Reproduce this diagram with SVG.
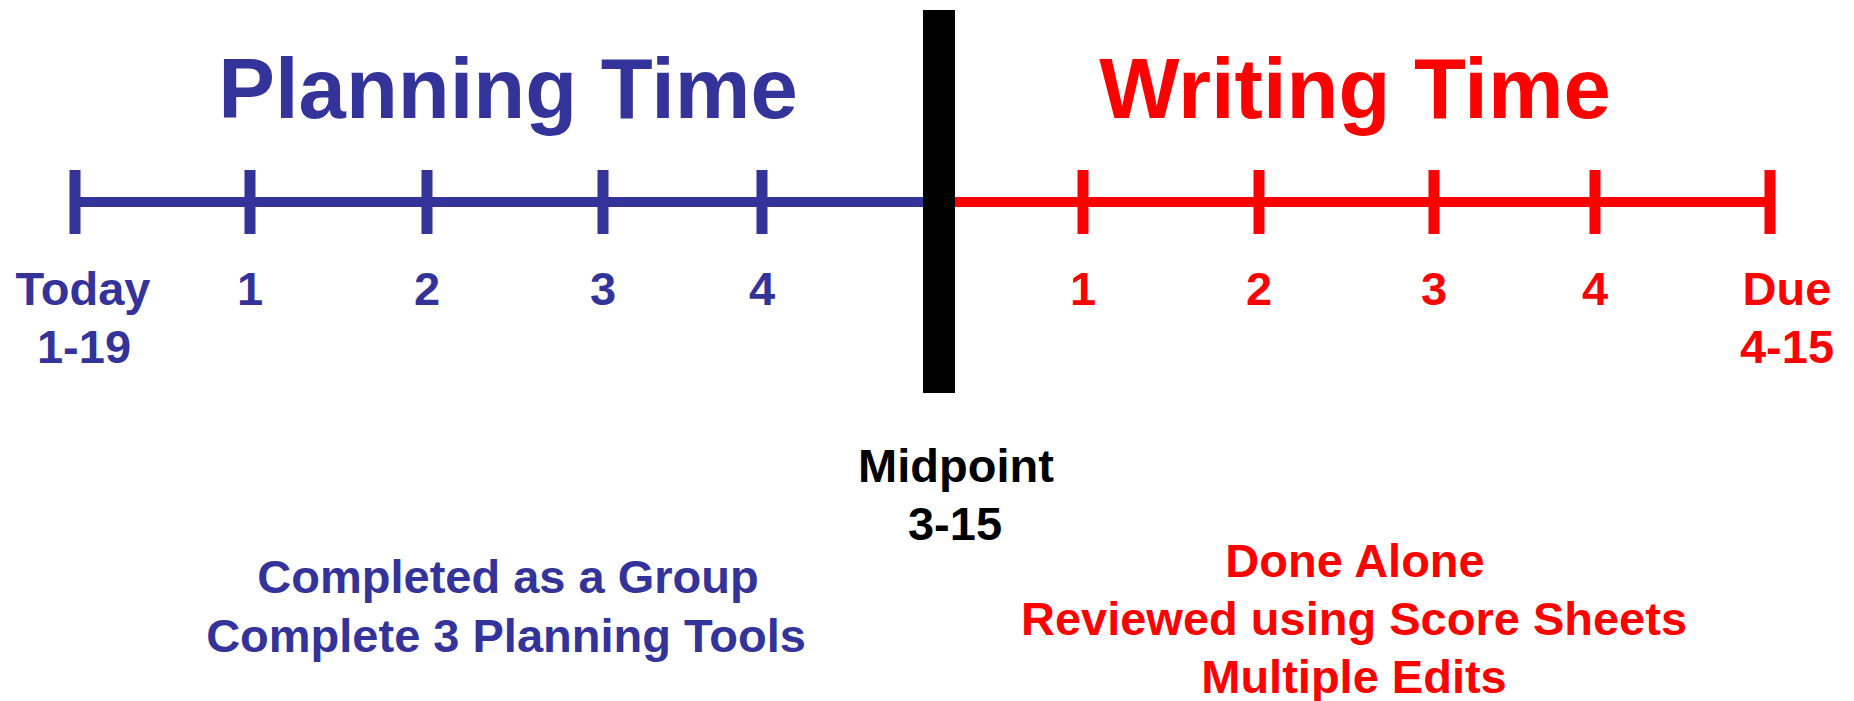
<svg xmlns="http://www.w3.org/2000/svg" width="1854" height="701" viewBox="0 0 1854 701">
<style>
text{font-family:"Liberation Sans",Arial,sans-serif;font-weight:bold;text-anchor:middle}
.b{fill:#333399}.r{fill:#FF0000}.k{fill:#000}
.t{font-size:85px}.s{font-size:47px}
.lb{stroke:#333399;stroke-width:10}.lr{stroke:#FF0000;stroke-width:10}
.tb{stroke:#333399;stroke-width:11}.tr{stroke:#FF0000;stroke-width:11}
</style>
<rect width="1854" height="701" fill="#fff"/>
<g id="connectors">
<line class="lb" x1="75" y1="202" x2="925" y2="202"/>
<line class="lr" x1="953" y1="202" x2="1770" y2="202"/>
</g>
<g id="planning-title"><text class="t b" x="508" y="118">Planning Time</text></g>
<g id="writing-title"><text class="t r" x="1355" y="118">Writing Time</text></g>
<g id="ticks-planning">
<line class="tb" x1="75" y1="170" x2="75" y2="234"/>
<line class="tb" x1="250" y1="170" x2="250" y2="234"/>
<line class="tb" x1="427" y1="170" x2="427" y2="234"/>
<line class="tb" x1="603" y1="170" x2="603" y2="234"/>
<line class="tb" x1="762" y1="170" x2="762" y2="234"/>
</g>
<g id="ticks-writing">
<line class="tr" x1="1083" y1="170" x2="1083" y2="234"/>
<line class="tr" x1="1259" y1="170" x2="1259" y2="234"/>
<line class="tr" x1="1434" y1="170" x2="1434" y2="234"/>
<line class="tr" x1="1595" y1="170" x2="1595" y2="234"/>
<line class="tr" x1="1770" y1="170" x2="1770" y2="234"/>
</g>
<g id="midpoint-bar"><rect x="923" y="10" width="32" height="383" fill="#000"/></g>
<g id="today"><text class="s b" x="83" y="305">Today</text><text class="s b" x="84" y="363">1-19</text></g>
<g id="p1"><text class="s b" x="250" y="305">1</text></g>
<g id="p2"><text class="s b" x="427" y="305">2</text></g>
<g id="p3"><text class="s b" x="603" y="305">3</text></g>
<g id="p4"><text class="s b" x="762" y="305">4</text></g>
<g id="w1"><text class="s r" x="1083" y="305">1</text></g>
<g id="w2"><text class="s r" x="1259" y="305">2</text></g>
<g id="w3"><text class="s r" x="1434" y="305">3</text></g>
<g id="w4"><text class="s r" x="1595" y="305">4</text></g>
<g id="due"><text class="s r" x="1787" y="305">Due</text><text class="s r" x="1787" y="363">4-15</text></g>
<g id="midpoint"><text class="s k" x="956" y="482">Midpoint</text><text class="s k" x="955" y="540">3-15</text></g>
<g id="planning-notes"><text class="s b" x="508" y="593">Completed as a Group</text><text class="s b" x="506" y="652">Complete 3 Planning Tools</text></g>
<g id="writing-notes"><text class="s r" x="1355" y="577">Done Alone</text><text class="s r" x="1354" y="635">Reviewed using Score Sheets</text><text class="s r" x="1354" y="693">Multiple Edits</text></g>
</svg>
